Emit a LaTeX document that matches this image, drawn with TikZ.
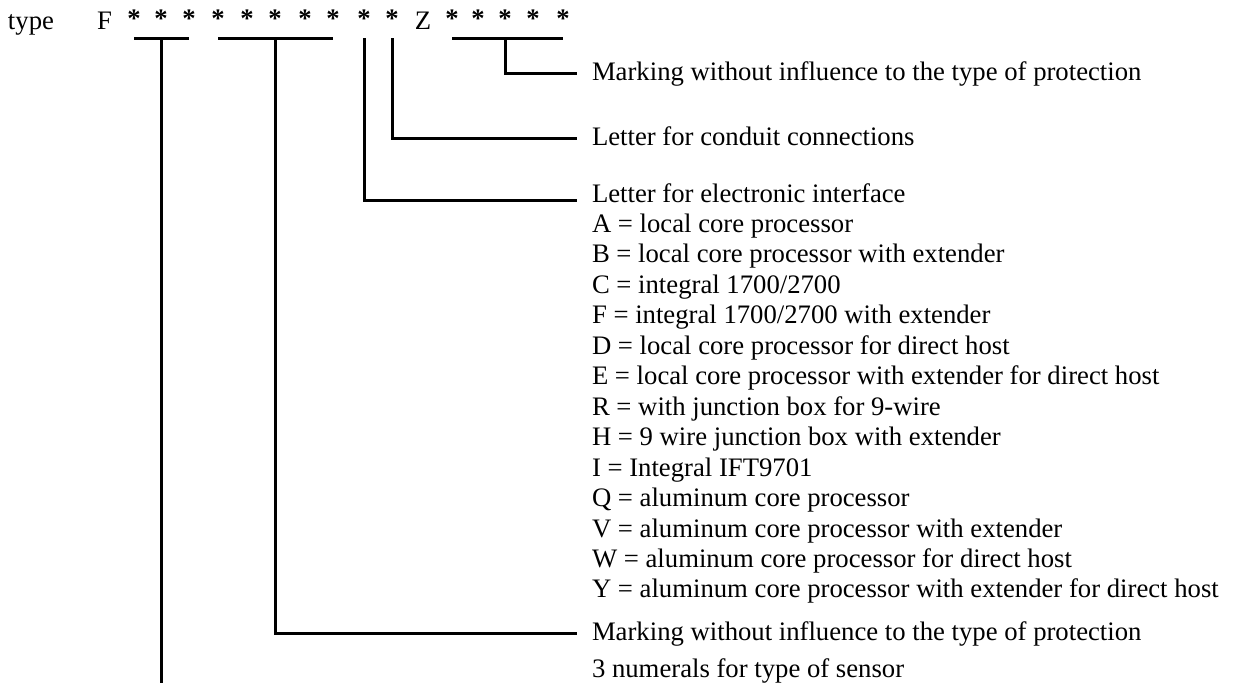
\documentclass[tikz,border=0pt]{standalone}
\usepackage{fontspec}
\setmainfont{Liberation Serif}
\usetikzlibrary{calc}
\begin{document}
\begin{tikzpicture}[x=1pt,y=-1pt,
  txt/.style={font=\fontsize{26.7}{30}\selectfont, inner sep=0pt, outer sep=0pt, anchor=base west},
  star/.style={font=\fontsize{26.7}{30}\selectfont\bfseries, inner sep=0pt, outer sep=0pt, anchor=base},
  letter/.style={font=\fontsize{26.7}{30}\selectfont, inner sep=0pt, outer sep=0pt, anchor=base},
  conn/.style={line width=3pt, line cap=butt}]
\useasboundingbox (0,0) rectangle (1233,683);
\fill[white] (0,0) rectangle (1233,683);
% code line
\node[txt] (type) at (8,29) {type};
\node[txt] (F) at (97,29) {F};
\foreach \x [count=\i] in {134,161,189,218,247,275,305,333,364,392}
  \node[star] (s\i) at (\x,27) {*};
\node[letter] (Z) at (423,29) {Z};
\foreach \x [count=\i] in {452,478,505,533,563}
  \node[star] (t\i) at (\x,27) {*};
\coordinate (ul) at (0,38);
\coordinate (bot) at (0,683);
% descriptions
\node[txt] (mk1) at (592,80) {Marking without influence to the type of protection};
\node[txt] (lc) at (592,145) {Letter for conduit connections};
\node[txt] (le) at (592,202) {Letter for electronic interface};
\foreach \t [count=\i] in {
  {A = local core processor},
  {B = local core processor with extender},
  {C = integral 1700/2700},
  {F = integral 1700/2700 with extender},
  {D = local core processor for direct host},
  {E = local core processor with extender for direct host},
  {R = with junction box for 9-wire},
  {H = 9 wire junction box with extender},
  {I = Integral IFT9701},
  {Q = aluminum core processor},
  {V = aluminum core processor with extender},
  {W = aluminum core processor for direct host},
  {Y = aluminum core processor with extender for direct host}}
  \node[txt] (e\i) at (592,{202+30.46*\i}) {\t};
\node[txt] (mk2) at (592,640) {Marking without influence to the type of protection};
\node[txt] (num) at (592,677) {3 numerals for type of sensor};
% brackets
\draw[conn] (s1 |- ul) -- (s3 |- ul);
\draw[conn] (s4 |- ul) -- (s8 |- ul);
\draw[conn] (t1 |- ul) -- (t5 |- ul);
% connectors
\draw[conn] (t3 |- ul) |- ($(mk1.base west)+(-15,-7)$);
\draw[conn] (s10 |- ul) |- ($(lc.base west)+(-15,-7)$);
\draw[conn] (s9 |- ul) |- ($(le.base west)+(-15,-2)$);
\draw[conn] (s6 |- ul) |- ($(mk2.base west)+(-15,-7)$);
\draw[conn] (s2 |- ul) -- (s2 |- bot);
\end{tikzpicture}
\end{document}
